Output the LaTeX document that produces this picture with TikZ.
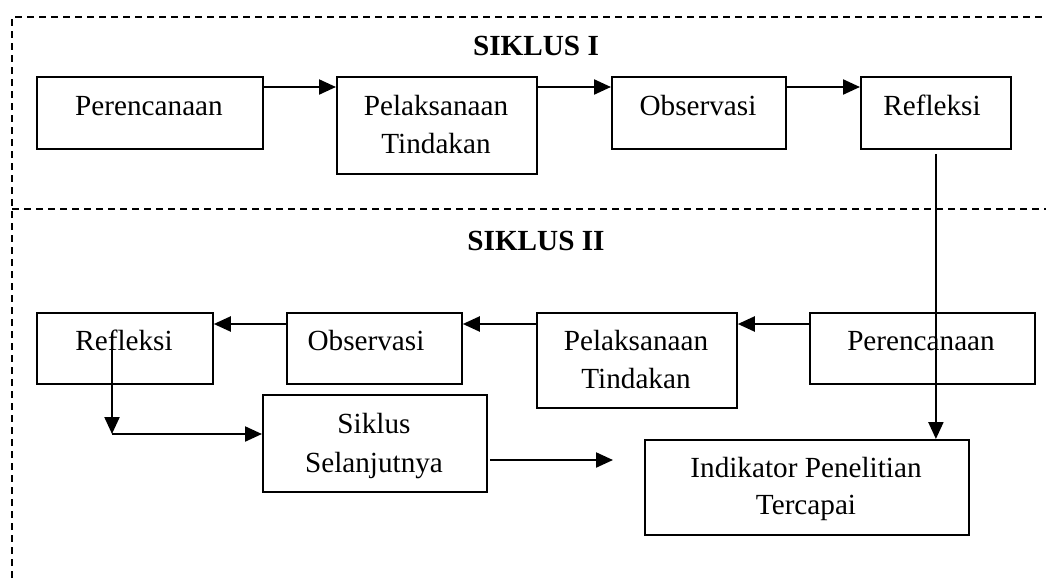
\documentclass[tikz,border=0pt]{standalone}
\usepackage{fontspec}
\setmainfont{Liberation Serif}
\usetikzlibrary{arrows.meta,calc}
\begin{document}
\begin{tikzpicture}[x=1pt,y=1pt,
  box/.style={draw, line width=1.8pt, rectangle, inner sep=0pt, anchor=north west},
  txt/.style={font=\fontsize{29.2}{35}\selectfont, inner sep=0pt, anchor=base},
  ttl/.style={font=\fontsize{29.2}{35}\selectfont\bfseries, inner sep=0pt, anchor=base},
  arr/.style={line width=2.2pt, -{Triangle[length=17pt,width=15pt]}},
  frame/.style={line width=1.7pt, dash pattern=on 7pt off 5pt}]
\useasboundingbox (0,0) rectangle (1046,-578);
% dashed frame
\draw[frame] (12,-578) -- (12,-17) -- (1046,-17);
\draw[frame] (12,-209) -- (1046,-209);
% titles
\node[ttl] (t1) at (536,-56) {SIKLUS I};
\node[ttl] (t2) at (536,-250) {SIKLUS II};
% boxes cycle I
\node[box, minimum width=226, minimum height=72] (p1) at (36,-76) {};
\node[box, minimum width=200, minimum height=97] (l1) at (336,-76) {};
\node[box, minimum width=174, minimum height=72] (o1) at (611,-76) {};
\node[box, minimum width=150, minimum height=72] (r1) at (860,-76) {};
% boxes cycle II
\node[box, minimum width=225, minimum height=71] (p2) at (809,-312) {};
\node[box, minimum width=200, minimum height=95] (l2) at (536,-312) {};
\node[box, minimum width=175, minimum height=71] (o2) at (286,-312) {};
\node[box, minimum width=176, minimum height=71] (r2) at (36,-312) {};
\node[box, minimum width=224, minimum height=97] (sk) at (262,-394) {};
\node[box, minimum width=324, minimum height=95] (ind) at (644,-439) {};
% texts
\node[txt] (p1t) at (149,-115) {Perencanaan};
\node[txt] (l1a) at (436,-115) {Pelaksanaan};
\node[txt] (l1b) at (436,-153) {Tindakan};
\node[txt] (o1t) at (698,-115) {Observasi};
\node[txt] (r1t) at (932,-115) {Refleksi};
\node[txt] (p2t) at (921,-350) {Perencanaan};
\node[txt] (l2a) at (636,-350) {Pelaksanaan};
\node[txt] (l2b) at (636,-388) {Tindakan};
\node[txt] (o2t) at (366,-350) {Observasi};
\node[txt] (r2t) at (124,-350) {Refleksi};
\node[txt] (ska) at (374,-433) {Siklus};
\node[txt] (skb) at (374,-472) {Selanjutnya};
\node[txt] (inda) at (806,-477) {Indikator Penelitian};
\node[txt] (indb) at (806,-514) {Tercapai};
% connectors cycle I
\draw[arr] ([yshift=-11pt]p1.north east) -- ([yshift=-11pt]l1.north west);
\draw[arr] ([yshift=-11pt]l1.north east) -- ([yshift=-11pt]o1.north west);
\draw[arr] ([yshift=-11pt]o1.north east) -- ([yshift=-11pt]r1.north west);
\draw[arr] ([yshift=-4pt]r1.south) -- (r1.south |- ind.north);
% connectors cycle II
\draw[arr] ([yshift=-12pt]p2.north west) -- ([yshift=-12pt]l2.north east);
\draw[arr] ([yshift=-12pt]l2.north west) -- ([yshift=-12pt]o2.north east);
\draw[arr] ([yshift=-12pt]o2.north west) -- ([yshift=-12pt]r2.north east);
\coordinate (rs) at (112,-347);
\coordinate (rc) at (112,-434);
\draw[arr] (rs) -- (rc);
\draw[arr] (rc) -- (sk.west |- rc);
\coordinate (se) at (613,-460);
\draw[arr] ([xshift=2pt]sk.east |- se) -- (se);
\end{tikzpicture}
\end{document}
